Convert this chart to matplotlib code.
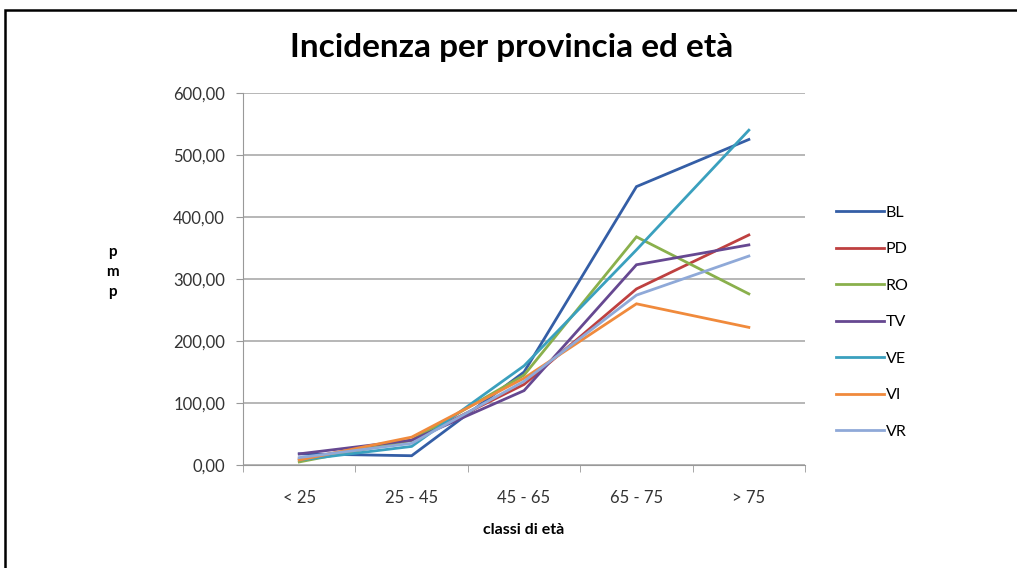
import matplotlib.pyplot as plt
from matplotlib.patches import Rectangle
from matplotlib.ticker import FuncFormatter, FixedLocator
import numpy as np

plt.rcParams['font.family'] = ['Lato', 'DejaVu Sans']

# Data
classi = ["< 25", "25 - 45", "45 - 65", "65 - 75", "> 75"]
BL = [18, 15, 150, 449, 525]
PD = [10, 40, 130, 284, 371]
RO = [5, 40, 145, 368, 276]
TV = [18, 40, 120, 323, 355]
VE = [8, 30, 160, 347, 540]
VI = [8, 45, 140, 260, 222]
VR = [12, 35, 135, 274, 337]

series = {"BL": BL, "PD": PD, "RO": RO, "TV": TV, "VE": VE, "VI": VI, "VR": VR}
colors = {"BL": "#345EA6", "PD": "#BE4040", "RO": "#8AB04C", "TV": "#664891",
          "VE": "#3AA0BE", "VI": "#F08A3C", "VR": "#8FA9D8"}

fig = plt.figure(figsize=(10.17, 5.68), dpi=100)
ax = fig.add_axes([0.239, 0.1813, 0.5526, 0.655])

x = np.arange(len(classi))
for name, vals in series.items():
    ax.plot(x, vals, color=colors[name], lw=2.0, label=name, solid_joinstyle="miter")

ax.set_xlim(-0.5, len(classi) - 0.5)
ax.set_ylim(0, 600)
ax.set_yticks(np.arange(0, 601, 100))
ax.yaxis.set_major_formatter(FuncFormatter(lambda v, p: f"{v:.2f}".replace(".", ",")))
ax.set_xticks(x)
ax.set_xticklabels(classi)
ax.xaxis.set_minor_locator(FixedLocator(np.arange(-0.5, len(classi), 1.0)))
ax.tick_params(axis="x", which="major", length=0, pad=18, labelsize=12, colors="#333333")
ax.tick_params(axis="x", which="minor", length=5, color="#999999")
ax.tick_params(axis="y", length=5, color="#999999", labelsize=12, pad=8, labelcolor="#333333")
ax.grid(axis="y", color="#AAAAAA", lw=1.2)
ax.set_axisbelow(True)
for s in ["top", "right"]:
    ax.spines[s].set_visible(False)
ax.spines["left"].set_color("#999999")
ax.spines["bottom"].set_color("#999999")

fig.text(512 / 1017, 1 - 48 / 568, "Incidenza per provincia ed età", fontsize=24,
         fontweight="bold", ha="center", va="center")
ax.set_xlabel("classi di età", fontsize=11.5, fontweight="bold", labelpad=12)
fig.text(0.111, 0.521, "p\nm\np", fontsize=11, fontweight="bold", ha="center",
         va="center", linespacing=1.55)

ax.legend(loc="center left", bbox_to_anchor=(1.03, 0.384), frameon=False,
          handlelength=3.0, handletextpad=0.1, labelspacing=1.4, fontsize=11.5)

fig.patches.append(Rectangle((5 / 1017, -0.05), 1.1, 0.05 + 1 - 10 / 568,
                             transform=fig.transFigure, fill=False, lw=1.8,
                             edgecolor="black"))

fig.savefig("out.png", dpi=100)
